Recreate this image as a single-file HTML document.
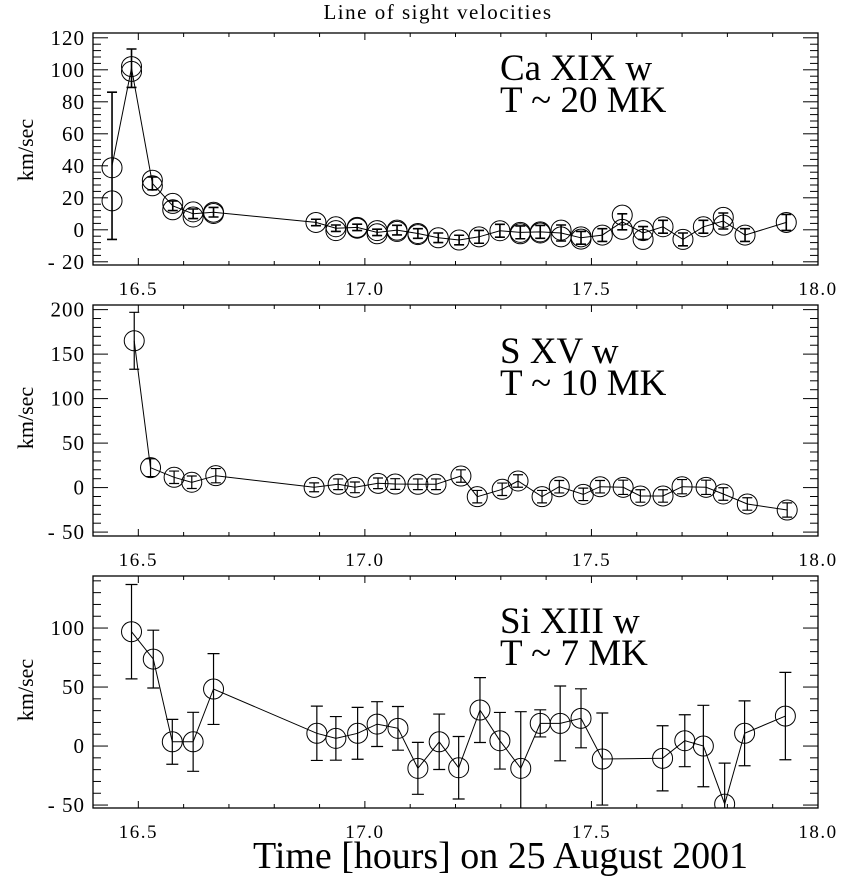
<!DOCTYPE html>
<html><head><meta charset="utf-8"><style>
html,body{margin:0;padding:0;background:#fff;}
svg{display:block;font-family:"Liberation Serif",serif;}
</style></head><body>
<svg id="chart" width="848" height="881" viewBox="0 0 848 881" xmlns="http://www.w3.org/2000/svg">
<text x="438" y="19" font-size="21" text-anchor="middle" letter-spacing="1.5">Line of sight velocities</text>
<text x="253" y="868" font-size="38" textLength="495" lengthAdjust="spacingAndGlyphs">Time [hours] on 25 August 2001</text>
</svg>
<script>
// ---- Ca XIX data ----
const caTimes = [16.442,16.485,16.531,16.576,16.621,16.666,16.892,16.936,16.983,17.027,17.071,17.117,17.162,17.208,17.252,17.298,17.343,17.387,17.433,17.477,17.524,17.568,17.614,17.658,17.702,17.747,17.791,17.839,17.930];
const caValues = [40,101,29,15,10,11,4.6,1.0,1.5,-1.6,-0.2,-2.3,-5,-6.4,-4.4,-0.6,-1.6,-1.3,-2,-5,-3.3,5,-2,1.9,-6,1.9,5.5,-3.3,4.6];
const caCircleA = [38.8,102,31,16.5,11.2,10.2,4.6,1.9,1.5,-0.5,-0.2,-2.3,-5,-6.4,-4.4,-0.6,-1.6,-1.3,-0.2,-4.4,-3.3,9.2,-0.5,1.9,-6,1.9,7.8,-3.3,4.6];
const caCircleB = [18.1,99,27.5,12.5,8,11,null,-0.5,1,-2.5,-1,-3,null,null,null,null,-2.5,-2,-4.4,-5.8,null,0.3,-6,null,null,null,2.9,null,null];
const caErrors = [46,12,4,3,3,3,2,2,2,2,3,3,3,3,4,4,4,4,5,4,4,5,4,4,4,4,5,4,5];
// ---- S XV data ----
const sTimes = [16.491,16.527,16.579,16.618,16.671,16.888,16.941,16.978,17.029,17.067,17.117,17.157,17.212,17.248,17.303,17.338,17.391,17.429,17.482,17.519,17.570,17.608,17.658,17.700,17.753,17.791,17.844,17.932];
const sValues = [165,22.4,11.6,6,13.4,0.3,3.7,0.3,4.8,4,3.7,3.7,13,-10.2,-1.9,7.4,-10.2,1,-7.6,1,0.3,-9.4,-9.4,1,0.3,-7.2,-18.4,-25.2];
const sErrors = [32,10,7,7,8,5,6,6,6,6,6,6,7,7,7,7,7,7,7,7,8,7,7,8,8,7,7,8];
// ---- Si XIII data ----
const siTimes = [16.485,16.533,16.575,16.621,16.666,16.894,16.936,16.984,17.027,17.073,17.117,17.164,17.207,17.254,17.298,17.344,17.387,17.431,17.477,17.524,17.657,17.706,17.747,17.794,17.838,17.928];
const siValues = [96.9,73.7,3.6,3.6,48.3,10.8,6.5,10.8,18.6,15,-18.9,3.6,-18.4,30.5,4.5,-18.9,19.2,19.2,23.5,-11,-10.4,4.5,0,-49.2,10.8,25.4];
const siErrors = [40,24.5,19,25,30,23,18.5,22,19,18.5,22,23.5,26.5,27.5,24,48,11.5,31.7,25,39,27.6,22,34.5,34.7,27.5,37];
// ---- axis ticks ----
const xTickLabels = ["16.5","17.0","17.5","18.0"];
const xTickValues = [16.5,17.0,17.5,18.0];
const caYTicks = [120,100,80,60,40,20,0,-20];
const sYTicks = [200,150,100,50,0,-50];
const siYTicks = [100,50,0,-50];

const NS="http://www.w3.org/2000/svg";
const svg=document.getElementById('chart');
const X0=93,X1=818,T0=16.4,T1=18.0;
function xs(t){return X0+(t-T0)/(T1-T0)*(X1-X0);}
function mk(tag,attrs,parent){const e=document.createElementNS(NS,tag);for(const k in attrs)e.setAttribute(k,attrs[k]);(parent||svg).appendChild(e);return e;}
function fmt(v){return v<0?"- "+Math.abs(v):String(v);}

function panel(cfg){
  const {id,top,bot,vmin,vmax,yticks,minorStep,times,values,circA,circB,errs,label1,label2,labelY,capW,barW}=cfg;
  const ys=v=>bot-(v-vmin)/(vmax-vmin)*(bot-top);
  const g=mk('g',{});
  
  
  const cp=mk('clipPath',{id:id+'-clip'},g);
  mk('rect',{x:X0,y:top,width:X1-X0,height:bot-top},cp);
  const frame=mk('rect',{x:X0,y:top,width:X1-X0,height:bot-top,fill:'none',stroke:'#000','stroke-width':1.3},g);
  
  
  for(let i=0;i<=16;i++){
    const t=16.4+i*0.1;const x=xs(t);const major=Math.abs((t*2)-Math.round(t*2))<1e-6;
    const L=major?7:4;
    mk('line',{x1:x,x2:x,y1:bot,y2:bot-L,stroke:'#000','stroke-width':1},g);
    mk('line',{x1:x,x2:x,y1:top,y2:top+L,stroke:'#000','stroke-width':1},g);
  }
  xTickValues.forEach((t,i)=>{
    const tx=mk('text',{x:xs(t),y:bot+30,'font-size':19,'text-anchor':'middle','letter-spacing':1.5},g);
    tx.textContent=xTickLabels[i];
    
    
  });
  const start=Math.ceil(vmin/minorStep)*minorStep;
  for(let v=start;v<=vmax+1e-6;v+=minorStep){
    const y=ys(v);const major=yticks.some(m=>Math.abs(m-v)<1e-6);
    const L=major?15:8;
    mk('line',{x1:X0,x2:X0+L,y1:y,y2:y,stroke:'#000','stroke-width':1},g);
    mk('line',{x1:X1,x2:X1-L,y1:y,y2:y,stroke:'#000','stroke-width':1},g);
  }
  yticks.forEach(v=>{
    const tx=mk('text',{x:X0-8,y:ys(v)+7,'font-size':21,'text-anchor':'end','letter-spacing':1},g);
    tx.textContent=fmt(v);
    
    
  });
  const yl=mk('text',{x:0,y:0,'font-size':22,'text-anchor':'middle',transform:`translate(33,${labelY}) rotate(-90)`},g);
  yl.textContent='km/sec';
  
  
  const l1=mk('text',{x:500,y:cfg.lb1,'font-size':37},g);l1.textContent=label1;
  
  
  const l2=mk('text',{x:500,y:cfg.lb2,'font-size':37},g);l2.textContent=label2;
  
  
  const dg=mk('g',{'clip-path':`url(#${id}-clip)`},g);
  const pts=times.map((t,i)=>xs(t).toFixed(1)+','+ys(values[i]).toFixed(1)).join(' ');
  const pl=mk('polyline',{points:pts,fill:'none',stroke:'#000','stroke-width':1},dg);
  
  
  times.forEach((t,i)=>{
    const x=xs(t),v=values[i],e=errs[i];
    const y1=ys(v+e),y2=ys(v-e);
    const eb=mk('path',{d:`M${x},${y1}V${y2}M${x-capW},${y1}H${x+capW}M${x-capW},${y2}H${x+capW}`,stroke:'#000','stroke-width':barW,fill:'none'},dg);
    
    
    const cv=circA?circA[i]:v;
    const c=mk('circle',{cx:x,cy:ys(cv),r:10,fill:'none',stroke:'#000','stroke-width':1},dg);
    
    
    if(circB&&circB[i]!=null){
      const c2=mk('circle',{cx:x,cy:ys(circB[i]),r:10,fill:'none',stroke:'#000','stroke-width':1},dg);
      
      
    }
  });
}
panel({id:'ca',top:33,bot:265,vmin:-22,vmax:123,yticks:caYTicks,minorStep:4,times:caTimes,values:caValues,circA:caCircleA,circB:caCircleB,errs:caErrors,label1:'Ca XIX w',label2:'T ~ 20 MK',lb1:80,lb2:112,labelY:150,capW:5,barW:1.6});
panel({id:'s',top:305,bot:536,vmin:-54.4,vmax:205.2,yticks:sYTicks,minorStep:10,times:sTimes,values:sValues,errs:sErrors,label1:'S XV w',label2:'T ~ 10 MK',lb1:363,lb2:395,labelY:418,capW:5,barW:1.2});
panel({id:'si',top:576,bot:808,vmin:-52.5,vmax:144.1,yticks:siYTicks,minorStep:10,times:siTimes,values:siValues,errs:siErrors,label1:'Si XIII w',label2:'T ~ 7 MK',lb1:633,lb2:665,labelY:690,capW:6,barW:1.2});
</script>
</body></html>
